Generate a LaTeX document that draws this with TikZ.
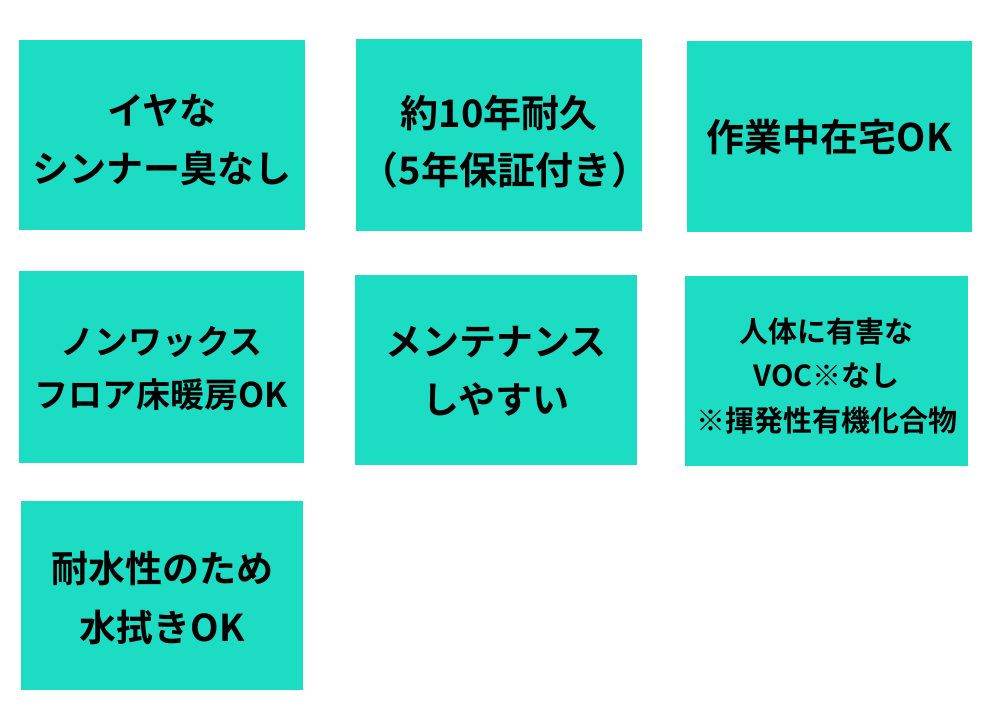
\documentclass[tikz,border=0pt]{standalone}
\usepackage{fontspec}
\newfontfamily\jp{Noto Sans CJK JP Bold}
\definecolor{cardfill}{RGB}{28,220,196}
\tikzset{
  card/.style={fill=cardfill, draw=none, inner sep=0pt},
  cardtext/.style={inner sep=0pt, align=center, text=black},
}
\begin{document}
\begin{tikzpicture}[x=1pt,y=-1pt]
\useasboundingbox (0,0) rectangle (1000,708);
\node[card, minimum width=286pt, minimum height=190pt] (b1) at (162,135) {};
\node[card, minimum width=286pt, minimum height=192pt] (b2) at (499,135) {};
\node[card, minimum width=285pt, minimum height=191pt] (b3) at (829.5,136.5) {};
\node[card, minimum width=285pt, minimum height=192pt] (b4) at (161.5,367) {};
\node[card, minimum width=282pt, minimum height=190pt] (b5) at (496,370) {};
\node[card, minimum width=283pt, minimum height=190pt] (b6) at (826.5,371) {};
\node[card, minimum width=282pt, minimum height=189pt] (b7) at (162,595.5) {};
\node[cardtext, font=\jp\fontsize{37}{58}\selectfont] (t1) at ([yshift=-5pt]b1.center)
  {イヤな\\シンナー臭なし};
\node[cardtext, font=\jp\fontsize{38}{57}\selectfont] (t2) at ([yshift=-7pt]b2.center)
  {約10年耐久\hspace{10pt}\\\hspace{12pt}（5年保証付き）};
\node[cardtext, font=\jp\fontsize{38}{57}\selectfont] (t3) at ([yshift=-1pt]b3.center)
  {作業中在宅OK};
\node[cardtext, font=\jp\fontsize{34}{53}\selectfont] (t4) at ([yshift=-2pt]b4.center)
  {ノンワックス\\フロア床暖房OK};
\node[cardtext, font=\jp\fontsize{37}{58}\selectfont] (t5) at ([yshift=-1.5pt]b5.center)
  {メンテナンス\\しやすい};
\node[cardtext, font=\jp\fontsize{29}{44.5}\selectfont] (t6) at ([yshift=-5pt]b6.center)
  {人体に有害な\\VOC※なし\\※揮発性有機化合物};
\node[cardtext, font=\jp\fontsize{37}{59}\selectfont] (t7) at ([yshift=-2pt]b7.center)
  {耐水性のため\\水拭きOK};
\end{tikzpicture}
\end{document}
